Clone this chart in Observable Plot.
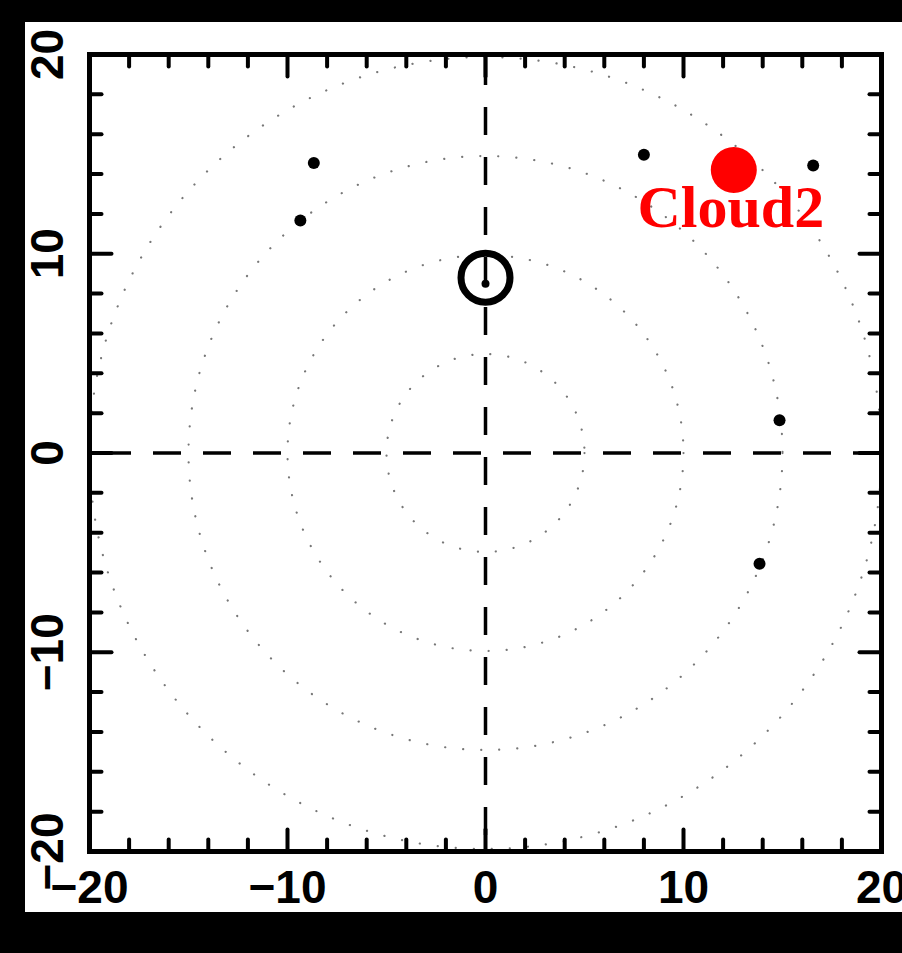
<!DOCTYPE html>
<html>
<head>
<meta charset="utf-8">
<script src="https://cdn.jsdelivr.net/npm/d3@7"></script>
<script src="https://cdn.jsdelivr.net/npm/@observablehq/plot@0.6"></script>
<style>
  html, body { margin: 0; padding: 0; background: #000; width: 902px; height: 953px; overflow: hidden; }
  #paper { position: absolute; left: 25px; top: 22px; width: 877px; height: 890px; background: #fff; }
  #chart { position: absolute; left: 0; top: 0; }
</style>
</head>
<body>
<div id="paper"></div>
<div id="chart"></div>
<script>
// ---- data ----
const minorTicks = [-18, -16, -14, -12, -8, -6, -4, -2, 2, 4, 6, 8, 12, 14, 16, 18];
const majorTicks = [-10, 0, 10];
const tickLabels = [-20, -10, 0, 10, 20];
const ringRadii = [5, 10, 15, 20];

const starX = [-8.67, -9.35, 8.0, 16.55, 14.85, 13.84, 0.0];
const starY = [14.56, 11.67, 14.97, 14.43, 1.64, -5.56, 8.5];

const centerX = [0];
const centerY = [8.8];

const cloudX = [12.54];
const cloudY = [14.2];
const cloudName = ["Cloud2"];

const origin = [0];

// ---- derived tables ----
const stars = starX.map((x, i) => ({x, y: starY[i]}));
const center = centerX.map((x, i) => ({x, y: centerY[i]}));
const clouds = cloudX.map((x, i) => ({x, y: cloudY[i], name: cloudName[i]}));
const rings = ringRadii.map(r => ({x: origin[0], y: origin[0], r}));
const fmt = d => (d < 0 ? "\u2212" + Math.abs(d) : String(d));

const tickShape = {draw(context, l) { context.moveTo(0, 0); context.lineTo(0, -l); }};
function sideTicks(values, len) {
  const common = {length: len, anchor: "start", shape: tickShape, stroke: "black", strokeWidth: 4};
  return [
    Plot.vector(values, {x: d => d, frameAnchor: "bottom", rotate: 0, ...common}),
    Plot.vector(values, {x: d => d, frameAnchor: "top", rotate: 180, ...common}),
    Plot.vector(values, {y: d => d, frameAnchor: "left", rotate: 90, ...common}),
    Plot.vector(values, {y: d => d, frameAnchor: "right", rotate: -90, ...common})
  ];
}

const labelFont = {fontFamily: "Liberation Sans, Arial, sans-serif", fontWeight: "bold", fontSize: 46, fill: "black"};

const chart = Plot.plot({
  width: 902,
  height: 953,
  marginLeft: 89,
  marginRight: 21,
  marginTop: 54,
  marginBottom: 102,
  style: {background: "transparent", overflow: "visible"},
  x: {domain: [-20, 20], axis: null},
  y: {domain: [-20, 20], axis: null},
  r: {type: "linear", domain: [0, 20], range: [0, 396]},
  marks: [
    // dotted concentric circles
    Plot.dot(rings, {x: "x", y: "y", r: "r", fill: "none", stroke: "#777", strokeWidth: 2.2,
      strokeDasharray: "0.1 18", strokeLinecap: "round"}),
    // dashed axes through origin
    Plot.ruleX(origin, {x: d => d, stroke: "black", strokeWidth: 3.5, strokeDasharray: "28 22", strokeDashoffset: 47}),
    Plot.ruleY(origin, {y: d => d, stroke: "black", strokeWidth: 3.5, strokeDasharray: "28 22", strokeDashoffset: 36}),
    // ticks (inward)
    ...sideTicks(minorTicks, 12),
    ...sideTicks(majorTicks, 22),
    Plot.frame({stroke: "black", strokeWidth: 5}),
    // tick labels
    Plot.text(tickLabels, {x: d => d, frameAnchor: "bottom", dy: 37, lineAnchor: "middle", text: fmt, ...labelFont}),
    Plot.text(tickLabels, {y: d => d, frameAnchor: "left", dx: -41, rotate: -90, textAnchor: "middle", lineAnchor: "middle", text: fmt, ...labelFont}),
    // sources
    Plot.dot(stars.slice(0, 6), {x: "x", y: "y", r: 6, fill: "black"}),
    Plot.dot(stars.slice(6), {x: "x", y: "y", r: 4, fill: "black"}),
    Plot.dot(center, {x: "x", y: "y", r: 24.5, fill: "none", stroke: "black", strokeWidth: 7}),
    Plot.dot(clouds, {x: "x", y: "y", r: 23, fill: "#ff0000"}),
    Plot.text(clouds, {x: "x", y: "y", text: "name", dx: -3, dy: 57, lineAnchor: "bottom",
      fontFamily: "Liberation Serif, Times New Roman, serif", fontWeight: "bold", fontSize: 60, fill: "#ff0000"})
  ]
});
document.getElementById("chart").appendChild(chart);
</script>
</body>
</html>
